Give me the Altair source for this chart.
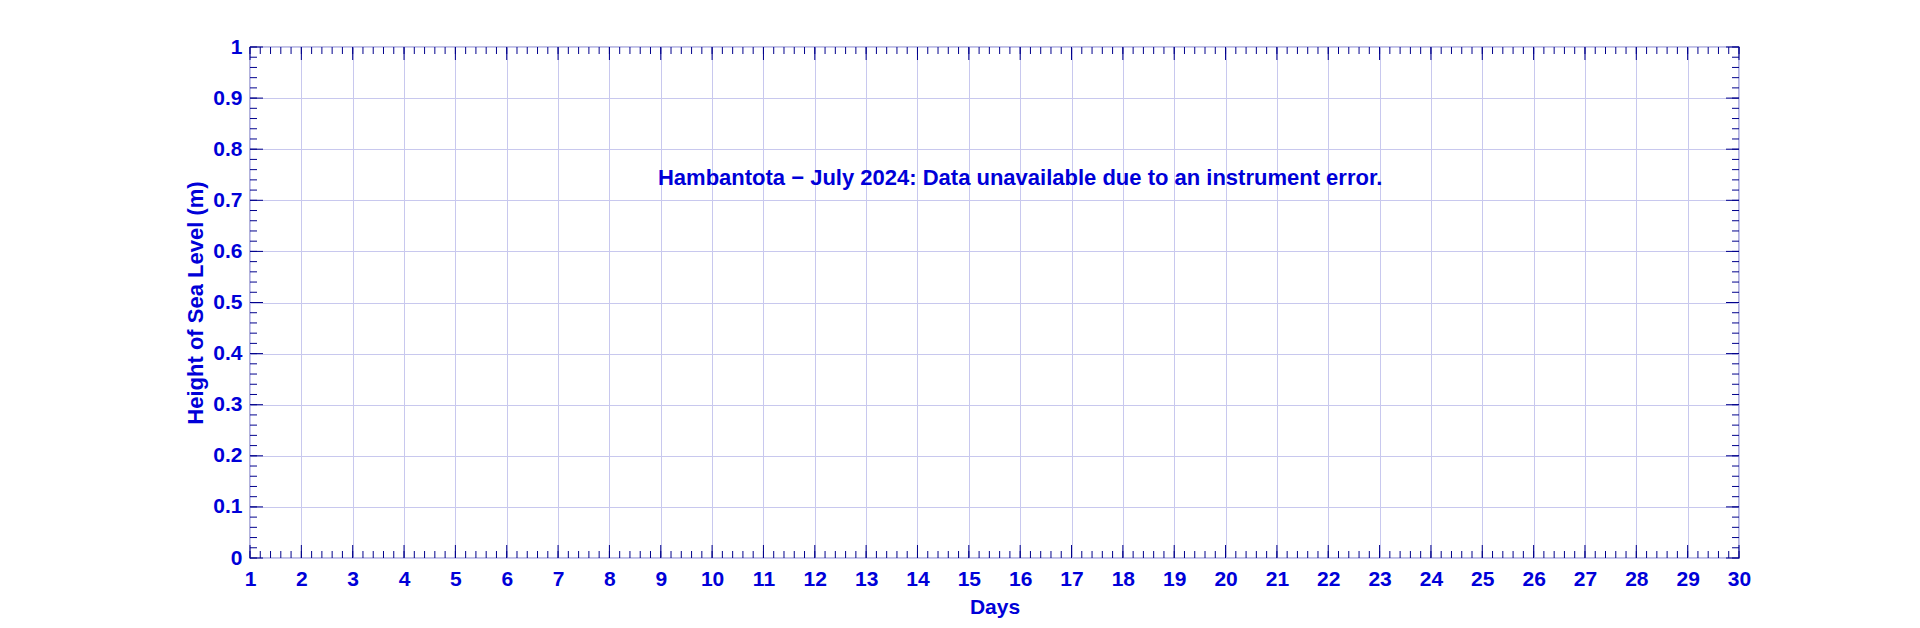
import altair as alt
import numpy as np
import pandas as pd

# ---- data ----
days = list(range(1, 31))
levels = [0, 0.1, 0.2, 0.3, 0.4, 0.5, 0.6, 0.7, 0.8, 0.9, 1.0]
minor_days = [round(v, 2) for v in np.arange(1, 30.0001, 0.2)]
minor_levels = [round(v, 3) for v in np.arange(0, 1.0001, 0.02)]
note_x = [16]
note_y = [0.743]
note_text = ["Hambantota \u2212 July 2024: Data unavailable due to an instrument error."]

W, H = 1489, 511
TXT = "#0000d8"
AX = "#00008c"
GRID = "#c8c8ee"
FONT = "Liberation Sans"

xscale = alt.Scale(domain=[1, 30], nice=False, zero=False)
yscale = alt.Scale(domain=[0, 1], nice=False, zero=False)

xaxis = alt.Axis(values=days, title="Days", grid=True, gridColor=GRID, gridWidth=1,
                 domain=False, ticks=False, labelPadding=10, labelFont=FONT,
                 labelFontSize=21, labelFontWeight="bold", labelColor=TXT,
                 titleFont=FONT, titleFontSize=21, titleFontWeight="bold",
                 titleColor=TXT, titlePadding=7, labelFlush=False, labelOverlap=False)
yaxis = alt.Axis(values=levels, title="Height of Sea Level (m)", format="~g", grid=True,
                 gridColor=GRID, gridWidth=1, domain=False, ticks=False, labelPadding=8,
                 labelFont=FONT, labelFontSize=21, labelFontWeight="bold", labelColor=TXT,
                 titleFont=FONT, titleFontSize=22, titleFontWeight="bold", titleColor=TXT,
                 titlePadding=5, labelFlush=False, labelOverlap=False)

df_note = pd.DataFrame({"day": note_x, "h": note_y, "t": note_text})
df_xmaj = pd.DataFrame({"day": days})
df_xmin = pd.DataFrame({"day": minor_days})
df_ymaj = pd.DataFrame({"h": levels})
df_ymin = pd.DataFrame({"h": minor_levels})

X = alt.X("day:Q", scale=xscale, axis=xaxis)
Y = alt.Y("h:Q", scale=yscale, axis=yaxis)

note = alt.Chart(df_note).mark_text(font=FONT, fontSize=22, fontWeight="bold",
                                    color=TXT, align="center", baseline="middle").encode(
    x=X, y=Y, text="t:N")

layers = [note]
for df, L in [(df_xmaj, 13), (df_xmin, 7)]:
    layers.append(alt.Chart(df).mark_rule(color=AX, strokeWidth=1).encode(
        x=X, y=alt.value(H), y2=alt.value(H - L)))
    layers.append(alt.Chart(df).mark_rule(color=AX, strokeWidth=1).encode(
        x=X, y=alt.value(0), y2=alt.value(L)))
for df, L in [(df_ymaj, 13), (df_ymin, 7)]:
    layers.append(alt.Chart(df).mark_rule(color=AX, strokeWidth=1).encode(
        y=Y, x=alt.value(0), x2=alt.value(L)))
    layers.append(alt.Chart(df).mark_rule(color=AX, strokeWidth=1).encode(
        y=Y, x=alt.value(W), x2=alt.value(W - L)))

chart = alt.layer(*layers).properties(
    width=W, height=H,
    autosize=alt.AutoSizeParams(type="none"),
    padding={"left": 242, "top": 39, "right": 173, "bottom": 62},
    background="white",
).configure_view(stroke=AX, strokeWidth=1.2)

chart.save("out.html", embed_options={"renderer": "svg", "actions": False})
